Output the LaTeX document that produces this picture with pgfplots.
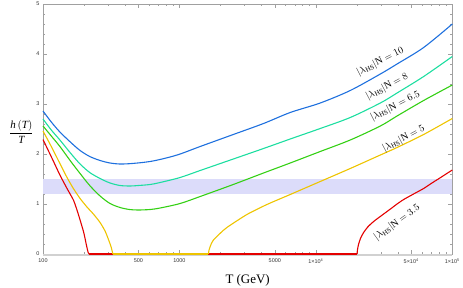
\documentclass[border=0pt]{standalone}
\usepackage{fontspec}
\setmainfont{Liberation Serif}
\setsansfont{Liberation Sans}
\usepackage{pgfplots}
\pgfplotsset{compat=1.18}
\definecolor{cblue}{RGB}{30,112,222}
\definecolor{cteal}{RGB}{28,222,160}
\definecolor{cgreen}{RGB}{52,208,20}
\definecolor{cyellow}{RGB}{238,196,0}
\definecolor{cred}{RGB}{228,0,0}
\definecolor{cband}{RGB}{220,220,250}
\definecolor{cframe}{RGB}{160,160,160}
\begin{document}
\begin{tikzpicture}
\useasboundingbox (-43bp,-34bp) rectangle (420bp,254bp);
\begin{axis}[
  at={(0,0)}, anchor=south west,
  width=409.3bp, height=250bp, scale only axis,
  xmode=log, xmin=100, xmax=100000, ymin=0, ymax=5,
  clip=false,
  axis line style={draw=cframe, line width=0.5pt},
  tick style={draw=cframe, line width=0.4pt},
  tick align=inside,
  major tick length=4bp, minor tick length=2bp,
  xtick={100,500,1000,5000,10000,50000,100000},
  xticklabels={100,500,1000,5000,1×10\textsuperscript{4},5×10\textsuperscript{4},1×10\textsuperscript{5}},
  minor xtick={200,300,400,600,700,800,900,2000,3000,4000,6000,7000,8000,9000,20000,30000,40000,60000,70000,80000,90000},
  ytick={0,1,2,3,4,5},
  minor y tick num=4,
  /pgf/number format/assume math mode=true,
  tick label style={font=\sffamily\fontsize{5.5}{6}\selectfont, text=black!80},
  xticklabel style={yshift=-1bp},
  xlabel={T (GeV)},
  xlabel style={at={(axis description cs:0.5,-0.105)}, anchor=center, font=\fontsize{13}{15}\selectfont},
  ylabel={$\displaystyle\frac{\textit{h}\,(\textit{T})}{\textit{T}}$},
  ylabel style={rotate=-90, at={(axis description cs:-0.053,0.49)}, anchor=center, font=\fontsize{11}{13}\selectfont},
  every axis plot/.append style={line width=1.1pt},
]
% band
\addplot[fill=cband, draw=none] coordinates {(100,1.2) (100000,1.2) (100000,1.5) (100,1.5)} -- cycle;
% x axis line at zero
\addplot[draw=black!18, line width=1.6pt, yshift=-1.2bp] coordinates {(100,0) (100000,0)};
% red, |lambda|N = 3.5
\addplot[cred, smooth, tension=0.4] coordinates {
(100,2.29) (119,1.86) (133,1.58) (150,1.31) (167,1.08) (177,0.89) (187,0.68) (198,0.45) (203,0.32) (208,0.18) (212,0.08) (215,0.02) (218,0)};
\addplot[cred] coordinates {(218,0) (20030,0)};
\addplot[cred, smooth, tension=0.4] coordinates {
(20030,0) (20200,0.09) (20580,0.2) (21300,0.32) (22390,0.43) (24000,0.54) (26500,0.65) (31390,0.80) (36000,0.92) (39360,1.0) (44000,1.09) (52000,1.2) (61660,1.31) (70000,1.41) (80000,1.51) (90000,1.60) (100000,1.68)};
% yellow, 5
\addplot[cyellow, smooth, tension=0.4] coordinates {
(100,2.46) (115,2.15) (133,1.81) (150,1.53) (167,1.31) (187,1.11) (210,0.94) (234,0.80) (262,0.63) (285,0.46) (300,0.31) (315,0.15) (322,0.05) (325,0)};
\addplot[cyellow] coordinates {(325,0) (1633,0)};
\addplot[cyellow, smooth, tension=0.4] coordinates {
(1633,0) (1645,0.07) (1670,0.13) (1710,0.2) (1776,0.28) (2000,0.42) (2227,0.53) (3123,0.79) (4378,0.99) (6486,1.19) (10765,1.45) (17865,1.71) (29690,1.98) (39360,2.13) (61660,2.39) (100000,2.71)};
% green, 6.5
\addplot[cgreen, smooth, tension=0.5] coordinates {
(100,2.56) (115,2.36) (133,2.15) (160,1.85) (187,1.61) (220,1.37) (262,1.16) (310,1.01) (367,0.93) (430,0.89) (498,0.88) (610,0.89) (722,0.92) (1012,1.01) (1419,1.15) (2424,1.38) (4133,1.62) (6486,1.82) (10765,2.05) (17865,2.28) (29690,2.56) (39360,2.76) (61660,3.07) (100000,3.38)};
% teal, 8
\addplot[cteal, smooth, tension=0.5] coordinates {
(100,2.70) (115,2.48) (133,2.28) (160,2.01) (187,1.80) (220,1.63) (262,1.51) (310,1.42) (367,1.37) (435,1.36) (500,1.37) (610,1.39) (722,1.43) (1012,1.53) (1419,1.67) (2424,1.89) (4133,2.11) (6486,2.30) (10765,2.51) (17865,2.73) (29690,3.02) (39360,3.22) (61660,3.55) (100000,3.95)};
% blue, 10
\addplot[cblue, smooth, tension=0.5] coordinates {
(100,2.86) (115,2.64) (133,2.44) (160,2.23) (187,2.07) (220,1.95) (262,1.87) (310,1.82) (367,1.80) (450,1.81) (610,1.85) (800,1.92) (1012,2.00) (1419,2.15) (2424,2.38) (4133,2.61) (6486,2.83) (10765,3.02) (17865,3.27) (29690,3.60) (39360,3.80) (61660,4.13) (100000,4.60)};
% labels
\node[rotate=27, font=\fontsize{10}{12}\selectfont] at (axis cs:29690,3.85) {$|\lambda_{\mathrm{HS}}|\mathrm{N} = 10$};
\node[rotate=28, font=\fontsize{10}{12}\selectfont] at (axis cs:33230,3.35) {$|\lambda_{\mathrm{HS}}|\mathrm{N} = 8$};
\node[rotate=27, font=\fontsize{10}{12}\selectfont] at (axis cs:38230,2.96) {$|\lambda_{\mathrm{HS}}|\mathrm{N} = 6.5$};
\node[rotate=28, font=\fontsize{10}{12}\selectfont] at (axis cs:44000,2.31) {$|\lambda_{\mathrm{HS}}|\mathrm{N} = 5$};
\node[rotate=36, font=\fontsize{10}{12}\selectfont] at (axis cs:39400,0.63) {$|\lambda_{\mathrm{HS}}|\mathrm{N} = 3.5$};
\end{axis}
\end{tikzpicture}
\end{document}
